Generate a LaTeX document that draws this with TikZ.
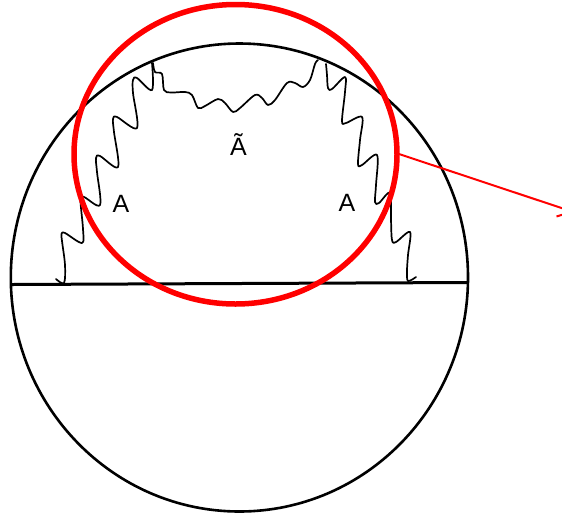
\documentclass[tikz,border=0pt]{standalone}
\usepackage{fontspec}
\setmainfont{Liberation Sans}
\begin{document}
\begin{tikzpicture}[x=1pt,y=-1pt,
  bigcircle/.style={line width=2.6pt},
  baseline/.style={line width=3pt},
  zoomring/.style={draw=red, line width=5.5pt},
  callout/.style={draw=red, line width=2pt},
  photon/.style={line width=1.7pt, line join=round, line cap=round},
  lbl/.style={font=\fontsize{25}{25}\selectfont, anchor=base, inner sep=0pt}]
\useasboundingbox (0,0) rectangle (562,515);
% outer circle
\draw[bigcircle] (239.4,277.5) ellipse [x radius=228.6, y radius=234];
% horizontal line
\coordinate (hl) at (12,284.5);
\coordinate (hr) at (468,282.5);
\draw[baseline] (hl) -- (hr);
% left photon
\draw[photon] plot[smooth, tension=0.55] coordinates {
 (56,279) (64,283) (65,265) (62,241) (61.5,234) (65,233) (82,243) (83,229)
 (80.5,200) (84,197) (100,205) (97,172) (96,158) (100,156) (118,167) (114,132)
 (113,119) (117,117) (137,128) (133,93) (133,80) (137,78) (152,90) (152,63)};
% top photon
\draw[photon] plot[smooth, tension=0.55] coordinates {
 (153,63) (155,72) (162,74) (164,90) (171,92.5) (185,92) (192,95) (198,108)
 (205,106) (218,99) (225,103) (233,112) (240,108) (255,95) (262,98) (268,105)
 (275,100) (287,83) (295,83) (303,87) (310,80) (315,64) (318,60)};
% right photon
\draw[photon] plot[smooth, tension=0.55] coordinates {
 (326,64) (327,75) (328,88) (332,89) (345,77) (345,92) (342,121) (346,123)
 (362,117) (360,140) (358,164) (362,165) (377,155) (376,185) (375,202) (379,203)
 (390,193) (391,220) (392,240) (396,242) (410,232) (408,255) (407,271) (408,281) (416,277)};
% labels
\node[lbl] (a1) at (121,212.5) {A};
\node[lbl] (a2) at (347,211.5) {A};
\node[lbl] (at) at (238.5,155.5) {Ã};
% zoom ring and callout
\draw[zoomring] (235.5,154.25) ellipse [x radius=161.5, y radius=149.75];
\coordinate (r0) at (399,154);
\coordinate (r1) at (563,208.5);
\draw[callout] (r0) -- (r1);
\coordinate (t0) at (556.5,216.5);
\coordinate (t1) at (563,214.5);
\draw[callout] (t0) -- (t1);
\end{tikzpicture}
\end{document}
